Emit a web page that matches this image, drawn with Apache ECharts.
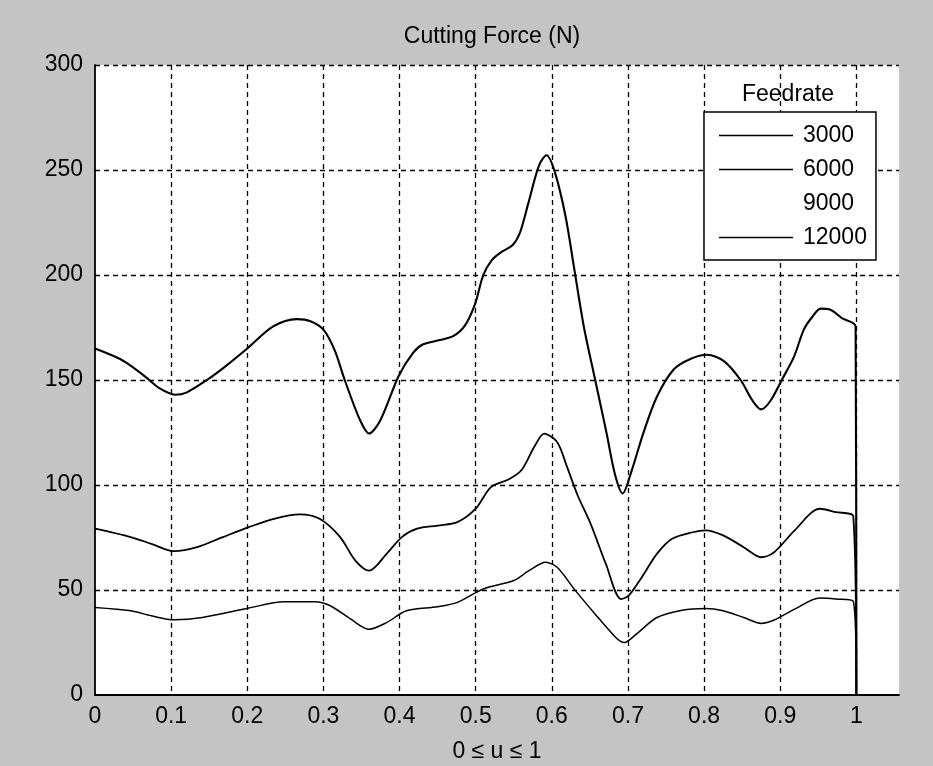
<!DOCTYPE html>
<html>
<head>
<meta charset="utf-8">
<script src="https://cdn.jsdelivr.net/npm/echarts@6/dist/echarts.min.js"></script>
<style>
html,body{margin:0;padding:0;background:#c4c4c4;}
#chart{width:933px;height:766px;}
</style>
</head>
<body>
<div id="chart"></div>
<script>
// ---- data ----
const chartTitle = 'Cutting Force (N)';
const xAxisName = '0 \u2264 u \u2264 1';
const legendTitle = 'Feedrate';
const seriesNames = ['3000', '6000', '9000', '12000'];

const u3000 = [0, 0.047, 0.074, 0.104, 0.141, 0.202, 0.248, 0.289, 0.309, 0.336, 0.36, 0.383, 0.409, 0.45, 0.476, 0.51, 0.55, 0.57, 0.592, 0.607, 0.631, 0.657, 0.684, 0.695, 0.711, 0.738, 0.771, 0.802, 0.825, 0.852, 0.875, 0.892, 0.919, 0.952, 0.973, 0.996, 1];
const f3000 = [41.7, 40.1, 37.7, 35.8, 36.9, 41.4, 44.4, 44.4, 42.5, 36.1, 31.3, 34.5, 40.1, 42, 44.1, 50.5, 54.5, 59.2, 63.2, 60.8, 49.7, 38.5, 27.4, 25, 29, 36.9, 40.4, 41.2, 40.1, 36.9, 34.1, 35.7, 40.9, 46.2, 45.7, 44.6, 0];

const u6000 = [0, 0.047, 0.074, 0.104, 0.134, 0.168, 0.202, 0.235, 0.269, 0.295, 0.322, 0.342, 0.36, 0.383, 0.403, 0.423, 0.45, 0.476, 0.5, 0.52, 0.543, 0.56, 0.577, 0.59, 0.607, 0.62, 0.634, 0.651, 0.671, 0.691, 0.701, 0.718, 0.738, 0.758, 0.785, 0.802, 0.825, 0.852, 0.875, 0.892, 0.919, 0.952, 0.973, 0.996, 1];
const f6000 = [79.2, 75.2, 72, 68.5, 70.4, 75.2, 79.9, 83.9, 86, 83.9, 75.2, 64, 59.2, 67.2, 75.2, 79.2, 80.7, 82.3, 88.7, 99, 102.6, 107, 118.2, 124.5, 120.5, 108.6, 95, 81.5, 62.4, 45.7, 47.3, 56, 67.2, 74.4, 77.5, 78.4, 76, 70.4, 65.6, 68, 78.4, 88.7, 87.1, 85, 0];

// 9000 curve is not visible in the scanned reference
const u9000 = [];
const f9000 = [];

const u12000 = [0, 0.033, 0.05, 0.068, 0.085, 0.105, 0.12, 0.147, 0.173, 0.2, 0.234, 0.265, 0.283, 0.3, 0.315, 0.328, 0.348, 0.36, 0.375, 0.399, 0.418, 0.431, 0.453, 0.471, 0.486, 0.499, 0.51, 0.521, 0.534, 0.548, 0.558, 0.569, 0.583, 0.593, 0.604, 0.618, 0.629, 0.642, 0.657, 0.672, 0.683, 0.693, 0.705, 0.72, 0.738, 0.76, 0.782, 0.804, 0.826, 0.848, 0.863, 0.875, 0.887, 0.902, 0.918, 0.931, 0.942, 0.953, 0.966, 0.981, 0.999, 1];
const f12000 = [165, 160, 156, 151, 146, 143, 144, 150, 157, 165, 175.5, 179, 178, 174, 164, 150, 131, 124.5, 131, 152, 163, 167, 169, 171, 176, 186, 200, 207, 211, 214, 220, 234, 252, 257, 249, 228, 204, 175.5, 150, 124.5, 105, 96, 107, 124.5, 142, 155, 160, 162, 159, 150, 140.5, 136, 140, 150, 161, 174, 180, 184, 183.5, 179.5, 175.5, 0];

const xMin = 0, xMax = 1.056, xStep = 0.1;
const yMin = 0, yMax = 300, yStep = 50;

// ---- chart ----
const FONT = "'Liberation Sans', Arial, sans-serif";
const zip = (xs, ys) => xs.map((x, i) => [x, ys[i]]);
const allU = [u3000, u6000, u9000, u12000];
const allF = [f3000, f6000, f9000, f12000];
const widths = [1.5, 1.8, 1.5, 2.1];

const chart = echarts.init(document.getElementById('chart'), null, {renderer: 'canvas'});
chart.setOption({
  backgroundColor: '#c4c4c4',
  animation: false,
  textStyle: {fontFamily: FONT},
  title: [
    {text: chartTitle, left: 492, top: 25, textAlign: 'center', padding: 0,
     textStyle: {fontFamily: FONT, fontSize: 23, fontWeight: 'normal', color: '#000'}},
    {text: legendTitle, left: 788, top: 83, textAlign: 'center', padding: 0,
     textStyle: {fontFamily: FONT, fontSize: 23, fontWeight: 'normal', color: '#000'}}
  ],
  legend: {
    data: seriesNames,
    orient: 'vertical',
    left: 704, top: 112,
    backgroundColor: '#fff',
    borderColor: '#000', borderWidth: 1.5, borderRadius: 0,
    padding: [12, 9, 11, 15],
    itemGap: 11,
    icon: 'rect',
    itemWidth: 74, itemHeight: 1.6,
    selectedMode: false,
    textStyle: {fontFamily: FONT, fontSize: 23, color: '#000', lineHeight: 23, padding: [0, 0, 0, 5]}
  },
  grid: {left: 95, right: 34, top: 65, bottom: 71, containLabel: false, outerBoundsMode: 'none',
         show: true, backgroundColor: '#fff', borderWidth: 0},
  xAxis: {
    type: 'value', min: xMin, max: xMax, interval: xStep,
    name: xAxisName, nameLocation: 'middle', nameGap: 45,
    nameTextStyle: {fontFamily: FONT, fontSize: 23, color: '#000'},
    axisLine: {show: true, onZero: false, lineStyle: {color: '#000', width: 1.8}},
    axisTick: {show: false},
    axisLabel: {fontFamily: FONT, fontSize: 23, color: '#000', margin: 10, showMaxLabel: false,
                formatter: v => (Math.abs(v * 10 - Math.round(v * 10)) < 1e-6 && v <= 1.0001) ? String(Math.round(v * 10) / 10) : ''},
    splitLine: {show: true, showMinLine: false, showMaxLine: false, lineStyle: {color: '#000', width: 1.3, type: [5, 4]}}
  },
  yAxis: {
    type: 'value', min: yMin, max: yMax, interval: yStep,
    axisLine: {show: true, lineStyle: {color: '#000', width: 1.8}},
    axisTick: {show: false},
    axisLabel: {fontFamily: FONT, fontSize: 23, color: '#000', margin: 12},
    splitLine: {show: true, showMinLine: false, lineStyle: {color: '#000', width: 1.3, type: [5, 4]}}
  },
  series: seriesNames.map((name, i) => ({
    name: name,
    type: 'line',
    data: zip(allU[i], allF[i]),
    symbol: 'none',
    smooth: 0.3,
    lineStyle: {color: name === '9000' ? 'rgba(0,0,0,0)' : '#000', width: widths[i]},
    itemStyle: {color: name === '9000' ? 'rgba(0,0,0,0)' : '#000'},
    z: 3
  }))
});
</script>
</body>
</html>
